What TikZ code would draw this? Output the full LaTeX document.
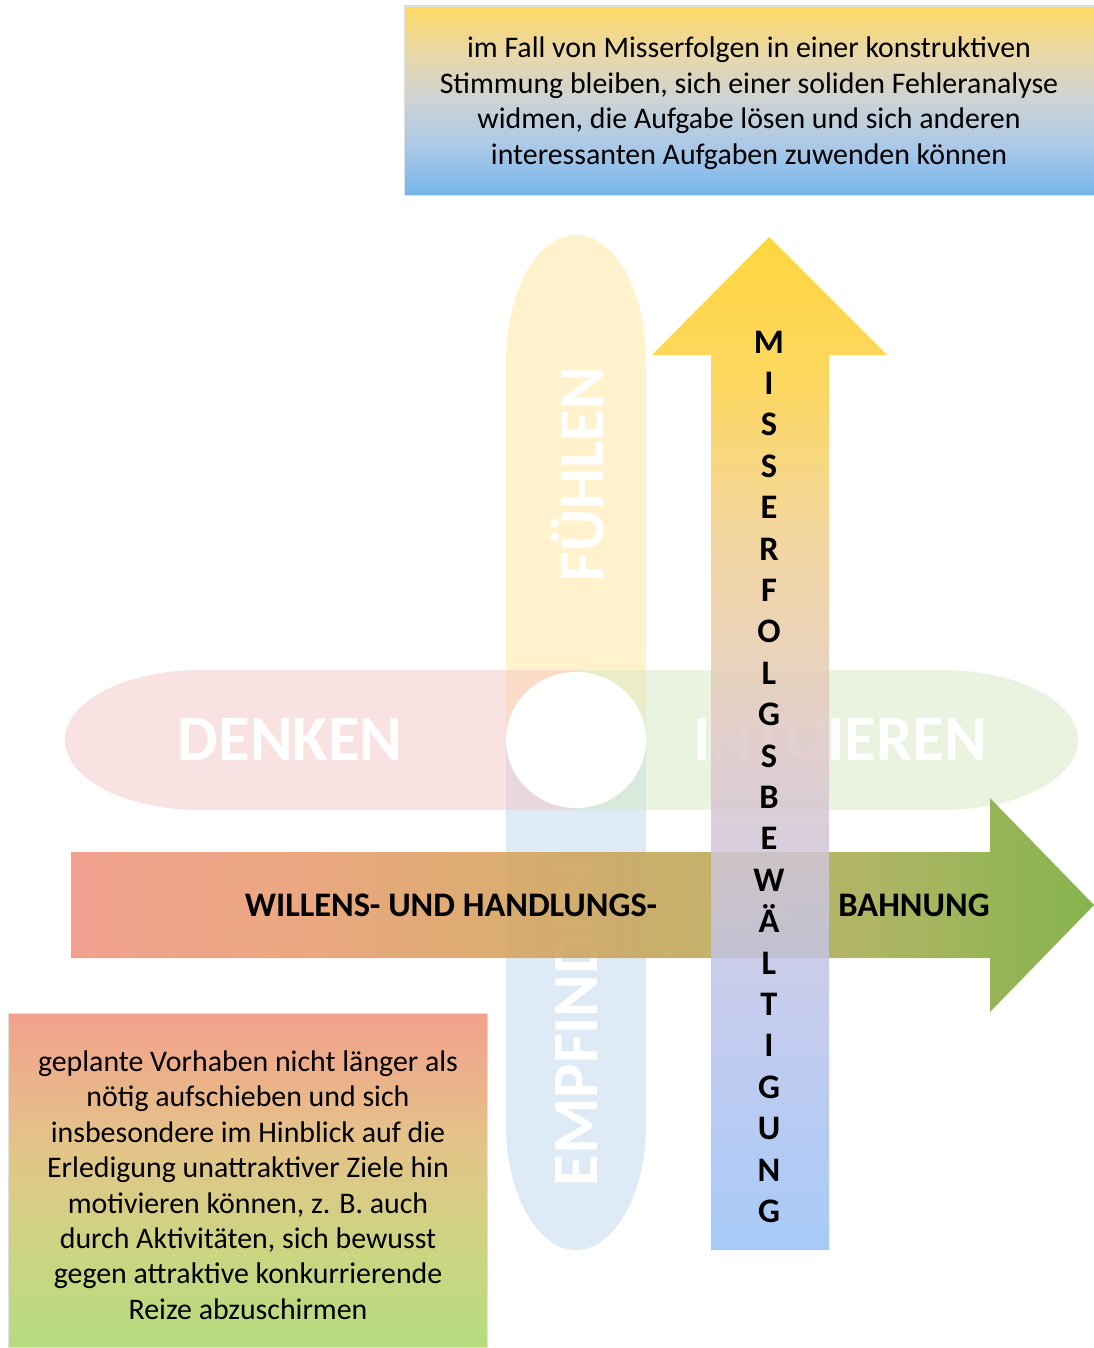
\documentclass[tikz,border=0pt]{standalone}
\usepackage{fontspec}
\setmainfont{Carlito}
\usepackage{tikz}

\definecolor{petalpink}{RGB}{243,197,197}
\definecolor{petalyellow}{RGB}{255,229,153}
\definecolor{petalblue}{RGB}{189,215,238}
\definecolor{petalgreen}{RGB}{214,232,194}

\definecolor{tn0}{RGB}{116,181,236}
\definecolor{tn1}{RGB}{168,200,232}
\definecolor{tn2}{RGB}{205,210,212}
\definecolor{tn3}{RGB}{232,216,170}
\definecolor{tn4}{RGB}{255,217,100}
\definecolor{bn0}{RGB}{182,220,128}
\definecolor{bn1}{RGB}{205,212,130}
\definecolor{bn2}{RGB}{228,196,137}
\definecolor{bn3}{RGB}{242,160,140}
\definecolor{up0}{RGB}{151,193,247}
\definecolor{up1}{RGB}{188,195,235}
\definecolor{up2}{RGB}{223,200,202}
\definecolor{up3}{RGB}{240,207,144}
\definecolor{up4}{RGB}{252,208,67}
\definecolor{up5}{RGB}{255,207,30}
\definecolor{rt0}{RGB}{240,152,134}
\definecolor{rt1}{RGB}{233,160,118}
\definecolor{rt2}{RGB}{218,165,102}
\definecolor{rt3}{RGB}{195,170,95}
\definecolor{rt4}{RGB}{165,175,85}
\definecolor{rt5}{RGB}{122,174,62}

\pgfdeclareverticalshading{topnoteshade}{100bp}{%
  color(0bp)=(tn0); color(25bp)=(tn0); color(37bp)=(tn1); color(50bp)=(tn2);
  color(62bp)=(tn3); color(75bp)=(tn4); color(100bp)=(tn4)}
\pgfdeclareverticalshading{bottomnoteshade}{100bp}{%
  color(0bp)=(bn0); color(25bp)=(bn0); color(40bp)=(bn1); color(55bp)=(bn2);
  color(75bp)=(bn3); color(100bp)=(bn3)}
\pgfdeclareverticalshading{upshade}{100bp}{%
  color(0bp)=(up0); color(25bp)=(up0); color(37bp)=(up1); color(50bp)=(up2);
  color(60bp)=(up3); color(68bp)=(up4); color(75bp)=(up5); color(100bp)=(up5)}
\pgfdeclarehorizontalshading{rightshade}{100bp}{%
  color(0bp)=(rt0); color(25bp)=(rt0); color(36bp)=(rt1); color(45bp)=(rt2);
  color(55bp)=(rt3); color(65bp)=(rt4); color(75bp)=(rt5); color(100bp)=(rt5)}

\begin{document}
\begin{tikzpicture}[x=0.75pt, y=-0.75pt,
  petal/.style={fill opacity=0.5},
  petallabel/.style={text=white, font=\fontsize{48.5}{50}\selectfont\bfseries, inner sep=0pt},
  notebox/.style={draw=black!12, line width=0.6pt},
  notetext/.style={align=center, font=\fontsize{22.4}{26.6}\selectfont, inner sep=0pt},
  arrowlabel/.style={font=\fontsize{25.8}{28}\selectfont\bfseries, inner sep=0pt, anchor=base},
  letterlabel/.style={font=\fontsize{25.8}{28}\selectfont\bfseries, inner sep=0pt, anchor=base}
]
\useasboundingbox (0,0) rectangle (1094,1348);

% vier Bereiche um die Mitte
\fill[petal, petalyellow] (506,740) -- (506,360)
  arc[start angle=180, end angle=360, x radius=70, y radius=125] -- (646,740) -- cycle;
\fill[petal, petalblue] (506,740) -- (506,1125)
  arc[start angle=180, end angle=0, x radius=70, y radius=125] -- (646,740) -- cycle;
\fill[petal, petalpink] (576,670) -- (200,670)
  arc[start angle=270, end angle=90, x radius=135, y radius=70] -- (576,810) -- cycle;
\fill[petal, petalgreen] (576,670) -- (943,670)
  arc[start angle=270, end angle=450, x radius=135, y radius=70] -- (576,810) -- cycle;
\fill[white] (576,740) ellipse[x radius=70, y radius=68];

\node[petallabel, rotate=90] (fuehlen) at (577,474) {FÜHLEN};
\node[petallabel, rotate=90] (empfinden) at (577,1023) {EMPFINDEN};
\node[petallabel] (denken) at (290,740) {DENKEN};
\node[petallabel] (intuieren) at (840,740) {INTUIEREN};

% Pfeile
\shade[shading=rightshade, fill opacity=0.92]
  (71,852) -- (990,852) -- (990,798) -- (1094,905) -- (990,1012) -- (990,958) -- (71,958) -- cycle;
\shade[shading=upshade, fill opacity=0.85]
  (711,1250) -- (711,355) -- (652,355) -- (769,237) -- (887,355) -- (829,355) -- (829,1250) -- cycle;

\node[arrowlabel] (willen) at (451,916) {WILLENS- UND HANDLUNGS-};
\node[arrowlabel] (bahnung) at (914,916) {BAHNUNG};
\foreach \ch [count=\i from 0] in {M,I,S,S,E,R,F,O,L,G,S,B,E,W,Ä,L,T,I,G,U,N,G}
  \node[letterlabel] (ltr-\i) at (769,353+41.4*\i) {\ch};

% Textfelder
\shade[notebox, shading=topnoteshade] (404,6) rectangle (1094,195);
\node[notetext] (oben) at (749,103)
  {im Fall von Misserfolgen in einer konstruktiven\\
   Stimmung bleiben, sich einer soliden Fehleranalyse\\
   widmen, die Aufgabe lösen und sich anderen\\
   interessanten Aufgaben zuwenden können};
\shade[notebox, shading=bottomnoteshade] (8,1013) rectangle (487,1347);
\node[notetext] (unten) at (248,1185)
  {geplante Vorhaben nicht länger als\\
   nötig aufschieben und sich\\
   insbesondere im Hinblick auf die\\
   Erledigung unattraktiver Ziele hin\\
   motivieren können, z. B. auch\\
   durch Aktivitäten, sich bewusst\\
   gegen attraktive konkurrierende\\
   Reize abzuschirmen};
\end{tikzpicture}
\end{document}
